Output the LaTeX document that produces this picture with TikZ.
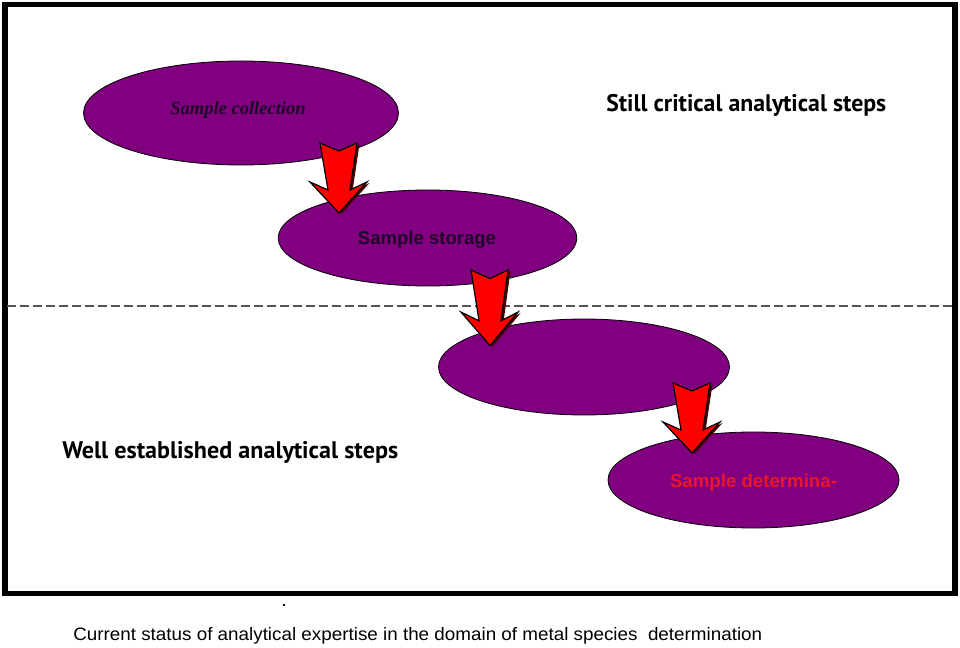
\documentclass[tikz,border=0pt]{standalone}
\usepackage{fontspec}
\usepackage{graphicx}
\setmainfont{Liberation Serif}
\newfontfamily\arialf{Liberation Sans}
\newfontfamily\optf{PT Sans}
\usetikzlibrary{shapes.geometric}
\definecolor{stepfill}{RGB}{128,0,128}
\definecolor{steptext}{RGB}{30,8,40}
\definecolor{arrowred}{RGB}{255,0,0}
\definecolor{arrowshade}{RGB}{70,0,0}
\definecolor{detred}{RGB}{235,20,40}
\definecolor{dashgray}{RGB}{85,85,85}
\newcommand{\fitw}[2]{\resizebox{#1}{\height}{#2}}
\tikzset{
  stepell/.style={ellipse, fill=stepfill, draw=black, line width=0.6pt, inner sep=0pt},
  regionlabel/.style={anchor=base west, inner sep=0pt, font=\optf\bfseries\fontsize{18pt}{20pt}\selectfont},
  blockarrow/.pic={
    \fill[arrowshade, shift={(2.5,1)}] (-19,0) -- (0,8) -- (18,0) -- (11,47) -- (28,39) -- (0,70) -- (-29,39) -- (-11,47) -- cycle;
    \filldraw[fill=arrowred, draw=black, line width=0.9pt, line join=miter] (-19,0) -- (0,8) -- (18,0) -- (11,47) -- (28,39) -- (0,70) -- (-29,39) -- (-11,47) -- cycle;
  }
}
\begin{document}
\begin{tikzpicture}[x=0.75pt, y=-0.75pt]
\useasboundingbox (0,0) rectangle (960,648);
\fill[white] (0,0) rectangle (960,648);
% frame
\draw[black, line width=4.1pt, line join=miter] (5,4.5) rectangle (955,593.5);
% divider
\draw[dashgray, line width=1.1pt, dash pattern=on 6.75pt off 3pt] (7,306) -- (952,306);
% steps
\node[stepell, minimum width=236.25pt, minimum height=78pt] (coll) at (241,113) {};
\node[stepell, minimum width=224pt, minimum height=72pt] (stor) at (427.5,238) {};
\node[stepell, minimum width=218.25pt, minimum height=72pt] (prep) at (584,367) {};
\node[stepell, minimum width=218.25pt, minimum height=72pt] (det) at (753.5,480) {};
% arrows
\coordinate (a1) at (339,143);
\coordinate (a2) at (490,270);
\coordinate (a3) at (692,383);
\pic at (a1) {blockarrow};
\pic[yscale=1.08] at (a2) {blockarrow};
\pic at (a3) {blockarrow};
% texts
\node[anchor=base, inner sep=0pt, text=steptext, font=\bfseries\itshape\fontsize{13.9pt}{16pt}\selectfont] (tcoll) at (238,115) {Sample collection};
\node[anchor=base, inner sep=0pt, text=steptext, font=\arialf\bfseries\fontsize{13.9pt}{16pt}\selectfont] (tstor) at (427,245) {Sample storage};
\node[anchor=base, inner sep=0pt, text=detred, font=\arialf\bfseries\fontsize{14pt}{16pt}\selectfont] (tdet) at (753.5,487) {Sample determina-};
\node[regionlabel] (crit) at (606,112) {\fitw{210pt}{Still critical analytical steps}};
\node[regionlabel] (well) at (62,458) {\fitw{252pt}{Well established analytical steps}};
\node[anchor=base west, inner sep=0pt, font=\arialf\fontsize{13.5pt}{16pt}\selectfont] (cap) at (73,640) {\fitw{516.75pt}{Current status of analytical expertise in the domain of metal species\ \ determination}};
\fill[black] (284,605) circle (1pt);
\end{tikzpicture}
\end{document}
